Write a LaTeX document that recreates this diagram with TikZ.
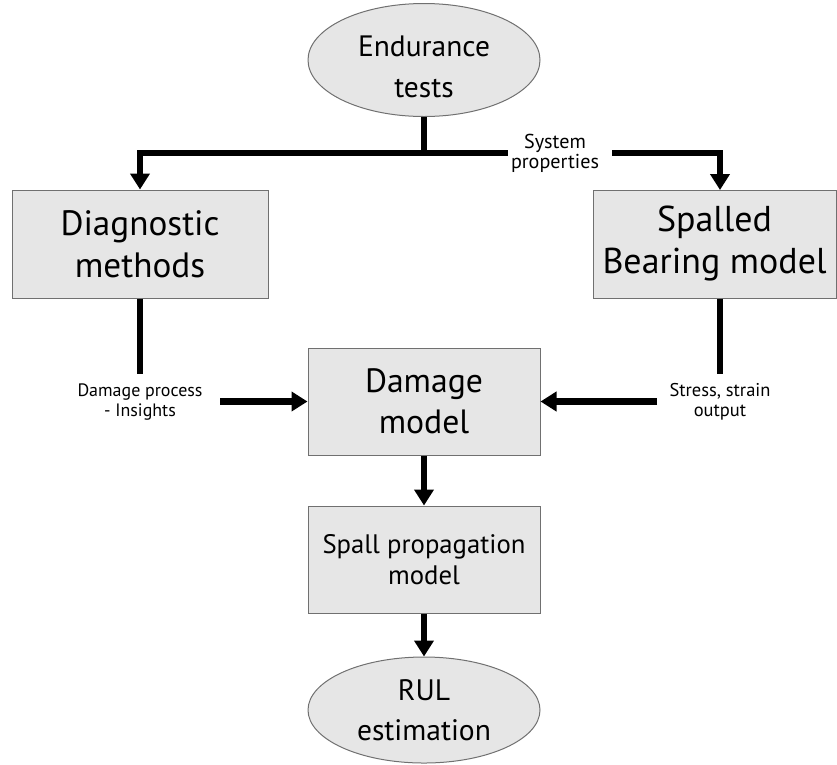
\documentclass[tikz,border=0pt]{standalone}
\usepackage{fontspec}
\setmainfont{PT Sans}
\usetikzlibrary{shapes.geometric,arrows.meta}
\definecolor{boxfill}{HTML}{E6E6E6}
\definecolor{boxline}{HTML}{707070}
\newlength\fitlen
\newcommand\fitfont[3]{%
  \settowidth\fitlen{\fontsize{10pt}{12pt}\selectfont #2}%
  \pgfmathsetmacro\fitsz{10*#1/\fitlen}%
  \fontsize{\fitsz pt}{#3pt}\selectfont}
\tikzset{
  blk/.style={draw=boxline,line width=1pt,fill=boxfill,inner sep=0pt,align=center},
  rbox/.style={blk,rectangle,minimum width=#1},
  oval/.style={blk,ellipse,minimum width=232pt},
  lbl/.style={align=center,inner sep=0pt},
  conn/.style={line width=6.5pt},
  arr/.style={conn,-{Triangle[width=19pt,length=16pt]}},
}
\begin{document}
\begin{tikzpicture}[x=1pt,y=-1pt]
\useasboundingbox (0,0) rectangle (837,764);
\node[oval,minimum height=113pt] (et) at (424,60) {};
\node[lbl,font=\fitfont{132}{Endurance}{41}] (ettxt) at (424,67) {Endurance\\tests};
\node[rbox=256pt,minimum height=108pt,font=\fitfont{159}{Diagnostic}{42}] (diag) at (140,244) {Diagnostic\\methods};
\node[rbox=243pt,minimum height=108pt,font=\fitfont{224}{Bearing model}{42}] (spb) at (714.5,244) {Spalled\\Bearing model};
\node[rbox=232pt,minimum height=107pt,font=\fitfont{118}{Damage}{41}] (dm) at (424,401.5) {Damage\\model};
\node[rbox=232pt,minimum height=107pt,font=\fitfont{203}{Spall propagation}{31}] (sp) at (424,559.5) {Spall propagation\\model};
\node[oval,minimum height=106pt,font=\fitfont{134}{estimation}{40}] (rul) at (424,710) {RUL\\estimation};
\node[lbl,font=\fitfont{88}{properties}{20}] (sysp) at (555,153) {System\\properties};
\node[lbl,font=\fitfont{125}{Damage process}{20}] (dpi) at (140,402) {Damage process\\- Insights};
\node[lbl,font=\fitfont{101}{Stress, strain}{20}] (sso) at (720,402) {Stress, strain\\output};
\coordinate (bus) at (424,153);
\coordinate (busr) at (508,153);
\coordinate (busr2) at (612,153);
\coordinate (spbin) at (720,190);
\coordinate (dgout) at (140,374);
\coordinate (dmin) at (220,401.5);
\coordinate (sbout) at (720,374);
\coordinate (dmin2) at (657,401.5);
\draw[conn] (et.south) -- (bus);
\draw[arr] (bus) -| (diag.north);
\draw[conn] (bus) -- (busr);
\draw[arr] (busr2) -| (spbin);
\draw[conn] (diag.south) -- (dgout);
\draw[arr] (dmin) -- (dm.west);
\draw[conn] ([xshift=5.5pt]spb.south) -- (sbout);
\draw[arr] (dmin2) -- (dm.east);
\draw[arr] (dm.south) -- (sp.north);
\draw[arr] (sp.south) -- (rul.north);
\end{tikzpicture}
\end{document}
